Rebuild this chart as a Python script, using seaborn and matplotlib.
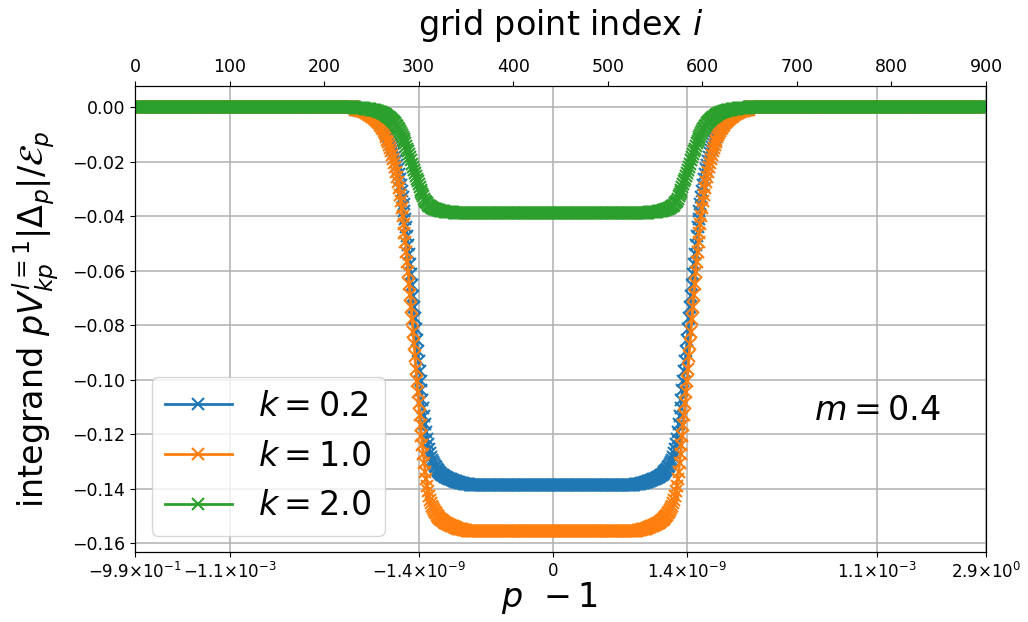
import matplotlib
matplotlib.use("Agg")
import matplotlib.pyplot as plt
import seaborn as sns

# ---------------- data ----------------
grid_index = list(range(901))

k_labels = [r'$k = 0.2$', r'$k = 1.0$', r'$k = 2.0$']
colors = ['#1f77b4', '#ff7f0e', '#2ca02c']

# k = 0.2 (blue): transition i=234..354, plateau, transition i=528..648
blue_left = [
    -0.00076, -0.00083, -0.00089, -0.00097, -0.00104, -0.00112, -0.00122, -0.00132, -0.00141, -0.00154,
    -0.00166, -0.00179, -0.00194, -0.00209, -0.00226, -0.00244, -0.00263, -0.00285, -0.00307, -0.00332,
    -0.00360, -0.00389, -0.00420, -0.00454, -0.00490, -0.00530, -0.00573, -0.00619, -0.00669, -0.00723,
    -0.00781, -0.00843, -0.00911, -0.00985, -0.01062, -0.01148, -0.01240, -0.01339, -0.01446, -0.01561,
    -0.01684, -0.01818, -0.01961, -0.02116, -0.02282, -0.02461, -0.02652, -0.02857, -0.03076, -0.03310,
    -0.03561, -0.03825, -0.04108, -0.04407, -0.04721, -0.05054, -0.05400, -0.05763, -0.06138, -0.06528,
    -0.06925,
    -0.07341, -0.07742, -0.08144, -0.08545, -0.08933, -0.09307, -0.09681, -0.10041, -0.10388, -0.10734,
    -0.11038, -0.11343, -0.11634, -0.11911, -0.12160, -0.12368, -0.12548, -0.12700, -0.12825, -0.12936,
    -0.13019, -0.13088, -0.13158, -0.13213, -0.13268, -0.13310, -0.13351, -0.13393, -0.13421, -0.13448,
    -0.13476, -0.13504, -0.13531, -0.13559, -0.13573, -0.13601, -0.13615, -0.13628, -0.13642, -0.13656,
    -0.13670, -0.13684, -0.13698, -0.13712, -0.13725, -0.13739, -0.13753, -0.13753, -0.13767, -0.13781,
    -0.13781, -0.13795, -0.13795, -0.13808, -0.13808, -0.13822, -0.13822, -0.13836, -0.13836, -0.13850,
]
blue_right = [
    -0.13850, -0.13836, -0.13836, -0.13822, -0.13822, -0.13808, -0.13808, -0.13795, -0.13795, -0.13781,
    -0.13781, -0.13767, -0.13753, -0.13753, -0.13739, -0.13725, -0.13712, -0.13698, -0.13684, -0.13670,
    -0.13656, -0.13642, -0.13628, -0.13615, -0.13601, -0.13573, -0.13559, -0.13531, -0.13504, -0.13476,
    -0.13448, -0.13421, -0.13393, -0.13351, -0.13310, -0.13268, -0.13213, -0.13158, -0.13088, -0.13019,
    -0.12936, -0.12825, -0.12700, -0.12548, -0.12368, -0.12160, -0.11911, -0.11634, -0.11343, -0.11038,
    -0.10734, -0.10388, -0.10041, -0.09681, -0.09307, -0.08933, -0.08545, -0.08144, -0.07742, -0.07341,
    -0.06925,
    -0.06528, -0.06138, -0.05763, -0.05400, -0.05054, -0.04721, -0.04407, -0.04108, -0.03825, -0.03561,
    -0.03310, -0.03076, -0.02857, -0.02652, -0.02461, -0.02282, -0.02116, -0.01961, -0.01818, -0.01684,
    -0.01561, -0.01446, -0.01339, -0.01240, -0.01148, -0.01062, -0.00985, -0.00911, -0.00843, -0.00781,
    -0.00723, -0.00669, -0.00619, -0.00573, -0.00530, -0.00490, -0.00454, -0.00420, -0.00389, -0.00360,
    -0.00332, -0.00307, -0.00285, -0.00263, -0.00244, -0.00226, -0.00209, -0.00194, -0.00179, -0.00166,
    -0.00154, -0.00141, -0.00132, -0.00122, -0.00112, -0.00104, -0.00097, -0.00089, -0.00083, -0.00076,
]
blue_plateau = -0.1385

# k = 1.0 (orange): transition i=233..353, plateau, transition i=529..649
orange_left = [
    -0.00086, -0.00093, -0.00100, -0.00109, -0.00117, -0.00126, -0.00137, -0.00148, -0.00159, -0.00173,
    -0.00187, -0.00201, -0.00218, -0.00235, -0.00253, -0.00274, -0.00295, -0.00320, -0.00345, -0.00373,
    -0.00404, -0.00437, -0.00471, -0.00510, -0.00550, -0.00596, -0.00644, -0.00695, -0.00751, -0.00812,
    -0.00877, -0.00947, -0.01023, -0.01106, -0.01193, -0.01289, -0.01392, -0.01504, -0.01623, -0.01752,
    -0.01891, -0.02042, -0.02202, -0.02376, -0.02563, -0.02763, -0.02978, -0.03208, -0.03454, -0.03716,
    -0.03998, -0.04295, -0.04612, -0.04948, -0.05301, -0.05674, -0.06063, -0.06470, -0.06892, -0.07329,
    -0.07775,
    -0.08242, -0.08692, -0.09143, -0.09594, -0.10030, -0.10450, -0.10869, -0.11274, -0.11663, -0.12051,
    -0.12393, -0.12735, -0.13062, -0.13373, -0.13653, -0.13886, -0.14088, -0.14259, -0.14399, -0.14524,
    -0.14617, -0.14695, -0.14773, -0.14835, -0.14897, -0.14944, -0.14990, -0.15037, -0.15068, -0.15099,
    -0.15130, -0.15161, -0.15192, -0.15223, -0.15239, -0.15270, -0.15286, -0.15301, -0.15317, -0.15332,
    -0.15348, -0.15363, -0.15379, -0.15395, -0.15410, -0.15426, -0.15441, -0.15441, -0.15457, -0.15472,
    -0.15472, -0.15488, -0.15488, -0.15503, -0.15503, -0.15519, -0.15519, -0.15534, -0.15534, -0.15550,
]
orange_right = [
    -0.15550, -0.15534, -0.15534, -0.15519, -0.15519, -0.15503, -0.15503, -0.15488, -0.15488, -0.15472,
    -0.15472, -0.15457, -0.15441, -0.15441, -0.15426, -0.15410, -0.15395, -0.15379, -0.15363, -0.15348,
    -0.15332, -0.15317, -0.15301, -0.15286, -0.15270, -0.15239, -0.15223, -0.15192, -0.15161, -0.15130,
    -0.15099, -0.15068, -0.15037, -0.14990, -0.14944, -0.14897, -0.14835, -0.14773, -0.14695, -0.14617,
    -0.14524, -0.14399, -0.14259, -0.14088, -0.13886, -0.13653, -0.13373, -0.13062, -0.12735, -0.12393,
    -0.12051, -0.11663, -0.11274, -0.10869, -0.10450, -0.10030, -0.09594, -0.09143, -0.08692, -0.08242,
    -0.07775,
    -0.07329, -0.06892, -0.06470, -0.06063, -0.05674, -0.05301, -0.04948, -0.04612, -0.04295, -0.03998,
    -0.03716, -0.03454, -0.03208, -0.02978, -0.02763, -0.02563, -0.02376, -0.02202, -0.02042, -0.01891,
    -0.01752, -0.01623, -0.01504, -0.01392, -0.01289, -0.01193, -0.01106, -0.01023, -0.00947, -0.00877,
    -0.00812, -0.00751, -0.00695, -0.00644, -0.00596, -0.00550, -0.00510, -0.00471, -0.00437, -0.00404,
    -0.00373, -0.00345, -0.00320, -0.00295, -0.00274, -0.00253, -0.00235, -0.00218, -0.00201, -0.00187,
    -0.00173, -0.00159, -0.00148, -0.00137, -0.00126, -0.00117, -0.00109, -0.00100, -0.00093, -0.00086,
]
orange_plateau = -0.1555

# k = 2.0 (green): transition i=232..352, plateau, transition i=528..648
green_left = [
    -0.00021, -0.00023, -0.00025, -0.00027, -0.00029, -0.00032, -0.00034, -0.00037, -0.00040, -0.00043,
    -0.00047, -0.00050, -0.00055, -0.00059, -0.00064, -0.00069, -0.00074, -0.00080, -0.00087, -0.00094,
    -0.00101, -0.00110, -0.00118, -0.00128, -0.00138, -0.00149, -0.00161, -0.00174, -0.00188, -0.00204,
    -0.00220, -0.00238, -0.00257, -0.00277, -0.00299, -0.00323, -0.00349, -0.00377, -0.00407, -0.00440,
    -0.00474, -0.00512, -0.00552, -0.00596, -0.00643, -0.00693, -0.00747, -0.00805, -0.00866, -0.00932,
    -0.01003, -0.01077, -0.01157, -0.01241, -0.01330, -0.01423, -0.01521, -0.01623, -0.01728, -0.01838,
    -0.01950,
    -0.02067, -0.02180, -0.02293, -0.02406, -0.02516, -0.02621, -0.02726, -0.02828, -0.02925, -0.03023,
    -0.03108, -0.03194, -0.03276, -0.03354, -0.03424, -0.03483, -0.03533, -0.03576, -0.03611, -0.03643,
    -0.03666, -0.03686, -0.03705, -0.03721, -0.03736, -0.03748, -0.03760, -0.03771, -0.03779, -0.03787,
    -0.03795, -0.03803, -0.03810, -0.03818, -0.03822, -0.03830, -0.03834, -0.03838, -0.03842, -0.03845,
    -0.03849, -0.03853, -0.03857, -0.03861, -0.03865, -0.03869, -0.03873, -0.03873, -0.03877, -0.03881,
    -0.03881, -0.03884, -0.03884, -0.03888, -0.03888, -0.03892, -0.03892, -0.03896, -0.03896, -0.03900,
]
green_right = [
    -0.03900, -0.03896, -0.03896, -0.03892, -0.03892, -0.03888, -0.03888, -0.03884, -0.03884, -0.03881,
    -0.03881, -0.03877, -0.03873, -0.03873, -0.03869, -0.03865, -0.03861, -0.03857, -0.03853, -0.03849,
    -0.03845, -0.03842, -0.03838, -0.03834, -0.03830, -0.03822, -0.03818, -0.03810, -0.03803, -0.03795,
    -0.03787, -0.03779, -0.03771, -0.03760, -0.03748, -0.03736, -0.03721, -0.03705, -0.03686, -0.03666,
    -0.03643, -0.03611, -0.03576, -0.03533, -0.03483, -0.03424, -0.03354, -0.03276, -0.03194, -0.03108,
    -0.03023, -0.02925, -0.02828, -0.02726, -0.02621, -0.02516, -0.02406, -0.02293, -0.02180, -0.02067,
    -0.01950,
    -0.01838, -0.01728, -0.01623, -0.01521, -0.01423, -0.01330, -0.01241, -0.01157, -0.01077, -0.01003,
    -0.00932, -0.00866, -0.00805, -0.00747, -0.00693, -0.00643, -0.00596, -0.00552, -0.00512, -0.00474,
    -0.00440, -0.00407, -0.00377, -0.00349, -0.00323, -0.00299, -0.00277, -0.00257, -0.00238, -0.00220,
    -0.00204, -0.00188, -0.00174, -0.00161, -0.00149, -0.00138, -0.00128, -0.00118, -0.00110, -0.00101,
    -0.00094, -0.00087, -0.00080, -0.00074, -0.00069, -0.00064, -0.00059, -0.00055, -0.00050, -0.00047,
    -0.00043, -0.00040, -0.00037, -0.00034, -0.00032, -0.00029, -0.00027, -0.00025, -0.00023, -0.00021,
]
green_plateau = -0.0390

blue_vals = [0.0] * 234 + blue_left + [blue_plateau] * 173 + blue_right + [0.0] * 252
orange_vals = [0.0] * 233 + orange_left + [orange_plateau] * 175 + orange_right + [0.0] * 251
green_vals = [0.0] * 232 + green_left + [green_plateau] * 175 + green_right + [0.0] * 252
series = [blue_vals, orange_vals, green_vals]

# bottom axis: p-1 labels at grid indices
bottom_tick_index = [0, 100, 300, 442, 584, 785, 900]
bottom_tick_labels = [r'$-9.9{\times}10^{-1}$', r'$-1.1{\times}10^{-3}$', r'$-1.4{\times}10^{-9}$',
                      r'$0$', r'$1.4{\times}10^{-9}$', r'$1.1{\times}10^{-3}$', r'$2.9{\times}10^{0}$']
top_ticks = [0, 100, 200, 300, 400, 500, 600, 700, 800, 900]
y_ticks = [0.00, -0.02, -0.04, -0.06, -0.08, -0.10, -0.12, -0.14, -0.16]

# ---------------- plot ----------------
plt.rcParams['font.family'] = ['DejaVu Sans']
plt.rcParams['mathtext.fontset'] = 'dejavusans'

fig = plt.figure(figsize=(10.28, 6.22), dpi=100)
ax = fig.add_axes([0.1313, 0.1121, 0.8278, 0.7497])

for vals, lab, col in zip(series, k_labels, colors):
    sns.lineplot(x=grid_index, y=vals, ax=ax, color=col, marker='x', markersize=8,
                 markeredgecolor=col, markeredgewidth=1.5, linewidth=2.0, label=lab,
                 legend=False)

ax.set_xlim(0, 900)
ax.set_xticks(bottom_tick_index)
ax.set_xticklabels(bottom_tick_labels, fontsize=12)
ax.set_yticks(y_ticks)
ax.set_yticklabels([f'{v:.2f}'.replace('-', '\u2212') for v in y_ticks], fontsize=12.5)
ax.grid(True, color='#b0b0b0', linewidth=1.1)
ax.set_axisbelow(True)

ax.set_xlabel(r'$p\;\,-1$', fontsize=24, labelpad=-1.5)
ax.xaxis.label.set_x(0.487)
ax.set_ylabel(r'integrand $pV_{kp}^{l=1}|\Delta_p|/\mathcal{E}_p$', fontsize=24, labelpad=8)

ax.text(0.872, 0.305, r'$m = 0.4$', transform=ax.transAxes, fontsize=24,
        ha='center', va='center')

ax.legend(loc='lower left', fontsize=24, framealpha=0.8)

ax2 = ax.twiny()
ax2.set_xlim(0, 900)
ax2.set_xticks(top_ticks)
ax2.set_xticklabels([str(t) for t in top_ticks], fontsize=12.5)
ax2.set_xlabel(r'grid point index $i$', fontsize=24, labelpad=17)

fig.savefig('out.png', dpi=100)
